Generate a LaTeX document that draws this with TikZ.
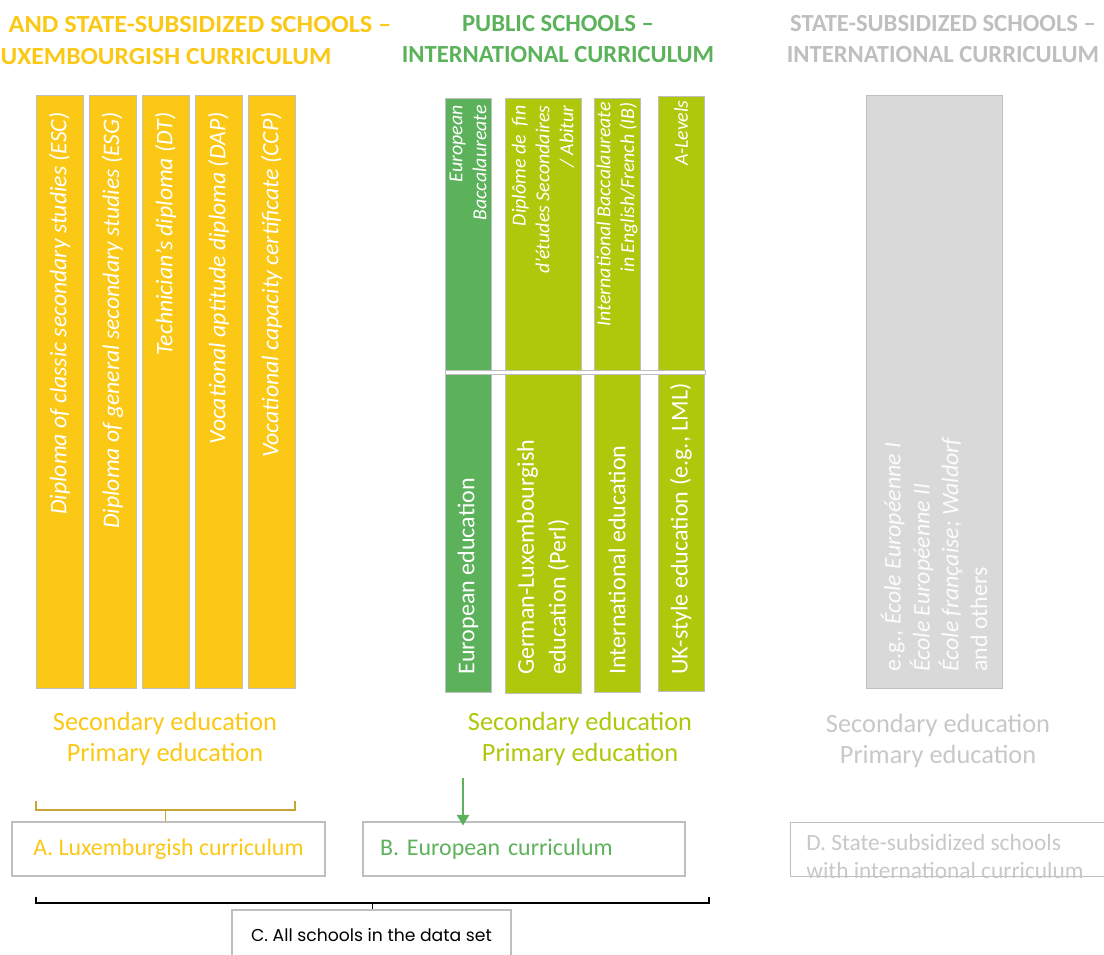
\documentclass[tikz,border=0pt]{standalone}
\usepackage{fontspec}
\setmainfont{Carlito}
\newfontfamily\gothic{Poppins}
\usetikzlibrary{positioning,arrows.meta,calc}

\definecolor{lux}{HTML}{FAC815}
\definecolor{eugreen}{HTML}{5CB25A}
\definecolor{lime}{HTML}{AFC80C}
\definecolor{subgrey}{HTML}{D9D9D9}
\definecolor{edgegrey}{HTML}{BFBFBF}
\definecolor{textgrey}{HTML}{C8C8C8}
\definecolor{bracegold}{HTML}{C8A532}

\begin{document}
\begin{tikzpicture}[x=0.02cm, y=-0.02cm,
  every node/.style={inner sep=0pt},
  header/.style={font=\fontsize{14}{17.6}\selectfont\bfseries, align=center},
  level/.style={font=\fontsize{15}{18}\selectfont, align=center},
  bar/.style={draw=edgegrey, line width=0.5pt},
  luxtext/.style={rotate=90, anchor=east, text=white, font=\fontsize{13.5}{16}\selectfont\itshape},
  dipl/.style={rotate=90, anchor=east, text=white, align=right, font=\fontsize{11.3}{13.6}\selectfont\itshape},
  track/.style={rotate=90, anchor=west, text=white, align=left, font=\fontsize{13.7}{18}\selectfont},
  box/.style={draw=edgegrey, line width=0.6pt, minimum height=54*\px, font=\fontsize{13.6}{16}\selectfont}]
  \def\px{0.02cm} % one pixel of the reference
  \def\w{47} % width of a yellow bar
  \useasboundingbox (0,0) rectangle (1104,955);
  \clip (0,0) rectangle (1104,955);

  % headers
  \node[header, text=lux, xscale=1.07] (luxhead1) at (200,25) {AND STATE-SUBSIDIZED SCHOOLS –};
  \node[header, text=lux, xscale=1.04] (luxhead2) at (166,57) {UXEMBOURGISH CURRICULUM};
  \node[header, text=eugreen] (pubhead) at (558,39) {PUBLIC SCHOOLS –\\INTERNATIONAL CURRICULUM};
  \node[header, text=edgegrey] (subhead) at (943,39) {STATE-SUBSIDIZED SCHOOLS –\\INTERNATIONAL CURRICULUM};

  % Draw the 5 yellow bars
  \foreach \i/\txt in {0/{Diploma of classic secondary studies (ESC)},
                       1/{Diploma of general secondary studies (ESG)},
                       2/{Technician’s diploma (DT)},
                       3/{Vocational aptitude diploma (DAP)},
                       4/{Vocational capacity certificate (CCP)}} {
    \draw[bar, fill=lux] (36+\i*53, 95) rectangle ++(\w, 593);
    \node[luxtext] (luxdipl\i) at (59.5+\i*53, 112) {\txt};
  }

  % green bars
  \draw[bar, fill=eugreen] (445,98) rectangle (491,692);
  \draw[bar, fill=lime] (505,98) rectangle (581,693);
  \draw[bar, fill=lime] (594,98) rectangle (640,692);
  \draw[bar, fill=lime] (658,96) rectangle (704,691);
  \draw[draw=edgegrey, fill=white, line width=0.5pt] (445,370) rectangle (705,374);

  \node[dipl] (eb) at (468,105) {European\\Baccalaureate};
  \node[dipl] (dfes) at (543,105) {Diplôme de\ \ fin\\d’études Secondaires\\/ Abitur};
  \node[dipl] (ib) at (617,102) {International Baccalaureate\\in English/French (IB)};
  \node[dipl] (alev) at (681,100) {A-Levels};

  \node[track] (eued) at (468,675) {European education};
  \node[track] (gled) at (543,675) {German-Luxembourgish\\education (Perl)};
  \node[track] (ined) at (617,675) {International education};
  \node[track] (uked) at (681,675) {UK-style education (e.g., LML)};

  % grey bar
  \draw[bar, fill=subgrey] (866,95) rectangle (1002,688);
  \node[track, text=white!92!subgrey, font=\fontsize{13.6}{16.4}\selectfont] (others) at (934,672)
    {e.g., \textit{École Européenne I}\\\textit{École Européenne II}\\\textit{École française; Waldorf}\\and others};

  % levels
  \node[level, text=lux] (luxlevel) at (165,739) {Secondary education\\Primary education};
  \node[level, text=lime] (publevel) at (580,739) {Secondary education\\Primary education};
  \node[level, text=textgrey] (sublevel) at (938,741) {Secondary education\\Primary education};

  % curriculum boxes
  \node[box, minimum width=313*\px, text=lux] (boxA) at (168.5,849) {A. Luxemburgish curriculum};
  \node[box, text width=288*\px, inner xsep=17*\px, align=left, text=eugreen] (boxB) at (524,849) {B. European curriculum};
  \node[box, minimum width=330*\px, anchor=north west] (boxD) at (790,822) {};
  \node[anchor=west, align=left, text=textgrey, font=\fontsize{13.3}{15.9}\selectfont] (dtext) at (806,856)
    {D. State-subsidized schools\\with international curriculum};
  \node[box, minimum width=279*\px, minimum height=50*\px, font=\gothic\fontsize{9.8}{12}\selectfont] (boxC) at (371.5,935) {C. All schools in the data set};

  % braces and arrow
  \coordinate (ybl) at (36,810);
  \coordinate (ybr) at (295,810);
  \coordinate (ybm) at ($(ybl)!0.5!(ybr)$);
  \draw[bracegold, line width=0.8pt] ($(ybl)+(0,-9)$) -- (ybl) -- (ybr) -- ++(0,-9);
  \draw[bracegold, line width=0.8pt] (ybm) -- (ybm |- boxA.north);

  \coordinate (eutop) at (463,778);
  \draw[eugreen, line width=0.8pt, -{Triangle[width=7pt, length=6pt]}] (eutop) -- ($(eutop |- boxB.north)+(0,4)$);

  \coordinate (cbl) at (36,903);
  \coordinate (cbr) at (709,903);
  \coordinate (cbm) at ($(cbl)!0.5!(cbr)$);
  \draw[line width=0.6pt] ($(cbl)+(0,-6)$) -- (cbl) -- (cbr) -- ++(0,-6);
  \draw[line width=0.6pt] (cbm) -- (cbm |- boxC.north);
\end{tikzpicture}
\end{document}
